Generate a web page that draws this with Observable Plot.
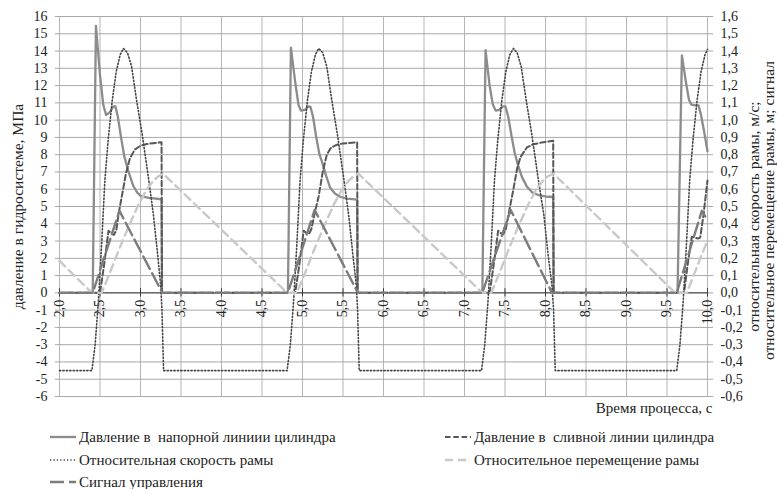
<!DOCTYPE html>
<html>
<head>
<meta charset="utf-8">
<script src="https://cdn.jsdelivr.net/npm/d3@7"></script>
<script src="https://cdn.jsdelivr.net/npm/@observablehq/plot@0.6"></script>
<style>
  html, body { margin: 0; background: #fff; overflow: hidden; font-family: "Liberation Serif", "Times New Roman", serif; color: #222; }
  #legend { position: relative; width: 777px; height: 65px; }
  .item { position: absolute; display: flex; align-items: center; height: 20px; font-size: 15px; white-space: pre; }
  .item svg { margin-right: 2px; }
</style>
</head>
<body>
<div id="chart"></div>
<div id="legend"></div>
<script>
// Time axis ticks, s
const timeTicks = [2.0, 2.5, 3.0, 3.5, 4.0, 4.5, 5.0, 5.5, 6.0, 6.5, 7.0, 7.5, 8.0, 8.5, 9.0, 9.5, 10.0];
// Left axis ticks, MPa (right axis shows the same grid divided by 10)
const pressureTicks = [-6, -5, -4, -3, -2, -1, 0, 1, 2, 3, 4, 5, 6, 7, 8, 9, 10, 11, 12, 13, 14, 15, 16];

// Pressure in the supply line of the cylinder, MPa: [time, value]
const supplyPressure = [
  [2.0, 0], [2.41, 0], [2.45, 15.45], [2.50, 12.6], [2.54, 10.9], [2.575, 10.3], [2.62, 10.45],
  [2.665, 10.8], [2.69, 10.8], [2.72, 10.2], [2.76, 9.0], [2.80, 7.9], [2.85, 7.05], [2.91, 6.2],
  [2.96, 5.8], [3.00, 5.62], [3.10, 5.5], [3.26, 5.42], [3.265, 0],
  [4.82, 0], [4.857, 14.2], [4.91, 12.2], [4.95, 10.9], [4.98, 10.55], [5.03, 10.6], [5.075, 10.8],
  [5.10, 10.75], [5.13, 10.2], [5.17, 9.0], [5.21, 8.0], [5.24, 7.6], [5.29, 6.8], [5.34, 6.1],
  [5.40, 5.75], [5.47, 5.55], [5.55, 5.45], [5.675, 5.4], [5.68, 0],
  [7.22, 0], [7.26, 14.05], [7.31, 12.0], [7.35, 10.9], [7.385, 10.55], [7.43, 10.6], [7.475, 10.8],
  [7.505, 10.8], [7.54, 10.2], [7.58, 9.1], [7.62, 8.1], [7.66, 7.4], [7.71, 6.7], [7.77, 6.15],
  [7.84, 5.8], [7.92, 5.65], [8.0, 5.58], [8.095, 5.55], [8.10, 0],
  [9.63, 0], [9.684, 13.75], [9.73, 12.3], [9.77, 11.2], [9.80, 10.9], [9.85, 10.85], [9.89, 10.85],
  [9.92, 10.3], [9.96, 9.3], [10.0, 8.2]
];

// Pressure in the drain line of the cylinder, MPa
const drainPressure = [
  [2.0, 0], [2.50, 0], [2.55, 1.6], [2.605, 3.6], [2.64, 3.45], [2.67, 3.35], [2.70, 3.6], [2.73, 4.6],
  [2.77, 5.6], [2.82, 6.9], [2.87, 7.8], [2.93, 8.3], [3.00, 8.52], [3.08, 8.62], [3.26, 8.72], [3.265, 0],
  [4.91, 0], [4.96, 1.6], [5.015, 3.6], [5.05, 3.45], [5.08, 3.4], [5.11, 3.7], [5.15, 4.6], [5.198, 5.55],
  [5.25, 7.0], [5.30, 8.0], [5.35, 8.4], [5.425, 8.58], [5.50, 8.65], [5.675, 8.72], [5.68, 0],
  [7.31, 0], [7.36, 1.6], [7.415, 3.6], [7.45, 3.45], [7.48, 3.4], [7.51, 3.7], [7.55, 4.7], [7.60, 5.9],
  [7.65, 7.2], [7.69, 7.85], [7.77, 8.42], [7.85, 8.6], [7.95, 8.7], [8.095, 8.8], [8.10, 0],
  [9.71, 0], [9.76, 1.8], [9.806, 3.25], [9.84, 3.2], [9.88, 3.15], [9.91, 3.2], [9.95, 4.5], [10.0, 6.5]
];

// Relative frame speed, m/s
const frameSpeed = [
  [2.0, -0.45], [2.40, -0.45], [2.44, -0.30], [2.48, -0.05], [2.52, 0.28], [2.56, 0.65], [2.60, 0.88],
  [2.65, 1.11], [2.70, 1.28], [2.75, 1.38], [2.79, 1.415], [2.84, 1.39], [2.89, 1.31], [2.95, 1.12],
  [3.02, 0.92], [3.10, 0.66], [3.16, 0.45], [3.21, 0.23], [3.25, 0.04], [3.265, -0.10], [3.285, -0.45],
  [4.81, -0.45], [4.85, -0.30], [4.89, -0.05], [4.93, 0.28], [4.97, 0.65], [5.01, 0.88], [5.06, 1.11],
  [5.11, 1.28], [5.16, 1.38], [5.20, 1.415], [5.25, 1.39], [5.30, 1.31], [5.36, 1.12], [5.43, 0.92],
  [5.51, 0.66], [5.57, 0.45], [5.62, 0.23], [5.665, 0.04], [5.68, -0.10], [5.70, -0.45],
  [7.21, -0.45], [7.25, -0.30], [7.29, -0.05], [7.33, 0.28], [7.37, 0.65], [7.41, 0.88], [7.46, 1.11],
  [7.51, 1.28], [7.56, 1.38], [7.605, 1.415], [7.65, 1.39], [7.70, 1.31], [7.76, 1.12], [7.83, 0.92],
  [7.91, 0.66], [7.98, 0.45], [8.03, 0.23], [8.08, 0.04], [8.10, -0.10], [8.12, -0.45],
  [9.62, -0.45], [9.66, -0.30], [9.70, -0.05], [9.74, 0.28], [9.78, 0.65], [9.82, 0.88], [9.87, 1.11],
  [9.92, 1.28], [9.97, 1.38], [10.0, 1.41]
];

// Relative frame displacement, m
const frameShift = [
  [2.0, 0.185], [2.40, 0], [2.52, 0], [2.60, 0.09], [2.73, 0.245], [2.85, 0.38], [2.98, 0.515],
  [3.08, 0.60], [3.16, 0.65], [3.22, 0.675], [3.28, 0.69],
  [4.81, 0], [4.93, 0], [5.01, 0.09], [5.14, 0.245], [5.26, 0.38], [5.39, 0.515], [5.49, 0.60],
  [5.57, 0.65], [5.63, 0.675], [5.69, 0.69],
  [7.22, 0], [7.33, 0], [7.41, 0.09], [7.54, 0.245], [7.66, 0.38], [7.79, 0.515], [7.89, 0.60],
  [7.97, 0.65], [8.03, 0.675], [8.10, 0.69],
  [9.60, 0], [9.745, 0], [9.82, 0.09], [9.94, 0.235], [10.0, 0.30]
];

// Control signal (right axis units)
const controlSignal = [
  [2.0, 0], [2.41, 0], [2.74, 0.475], [3.27, 0],
  [4.82, 0], [5.15, 0.48], [5.685, 0],
  [7.22, 0], [7.57, 0.48], [8.08, 0],
  [9.62, 0], [9.93, 0.475], [10.0, 0.42]
];

const series = [
  {name: "Давление в  напорной линиии цилиндра", data: supplyPressure, k: 1, stroke: "#8c8c8c", width: 2.3, dash: null},
  {name: "Давление в  сливной линии цилиндра", data: drainPressure, k: 1, stroke: "#575757", width: 2, dash: "5.5,2.8"},
  {name: "Относительная скорость рамы", data: frameSpeed, k: 10, stroke: "#454545", width: 1.6, dash: "1.3,2.1"},
  {name: "Относительное перемещение рамы", data: frameShift, k: 10, stroke: "#c9c9c9", width: 2.4, dash: "8,5"},
  {name: "Сигнал управления", data: controlSignal, k: 10, stroke: "#7c7c7c", width: 2.4, dash: "14,5"}
];

const comma = s => s.replace(".", ",");

const chart = Plot.plot({
  width: 777,
  height: 424,
  marginLeft: 59,
  marginRight: 70,
  marginTop: 16,
  marginBottom: 28,
  x: {domain: [2, 10], axis: null},
  y: {domain: [-6, 16], axis: null},
  style: {fontFamily: "Liberation Serif, Times New Roman, serif", fontSize: "14px", color: "#222", background: "#fff", overflow: "visible"},
  marks: [
    Plot.ruleX(timeTicks, {x: d => d, y1: -6, y2: 16, stroke: "#b5b5b5"}),
    Plot.ruleY(pressureTicks, {y: d => d, x1: 1.95, x2: 10.075, stroke: "#a8a8a8"}),
    Plot.axisY(pressureTicks, {anchor: "left", tickSize: 0, tickPadding: 12, tickFormat: d => String(d), label: null}),
    Plot.axisY(pressureTicks, {anchor: "right", tickSize: 0, tickPadding: 13, tickFormat: d => comma((d / 10).toFixed(1)), label: null}),
    Plot.ruleY([0], {x1: 2, x2: 10, stroke: "#3a3a3a"}),
    Plot.ruleX(timeTicks, {x: d => d, y1: -0.24, y2: 0.24, stroke: "#3a3a3a"}),
    Plot.text(timeTicks, {x: d => d, y: 0, text: d => comma(d.toFixed(1)), rotate: -90, textAnchor: "end", dy: 7}),
    ...series.map(s => Plot.line(s.data, {
      x: d => d[0], y: d => d[1] * s.k,
      stroke: s.stroke, strokeWidth: s.width, strokeDasharray: s.dash, strokeLinejoin: "round"
    })),
    Plot.text(["давление в гидросистеме, МПа"], {frameAnchor: "left", textAnchor: "middle", dx: -41, rotate: -90, fontSize: 15.5}),
    Plot.text(["относительная скорость рамы, м/с;"], {frameAnchor: "right", textAnchor: "middle", dx: 47, dy: 10, rotate: -90, fontSize: 15.5}),
    Plot.text(["относительное перемещение рамы, м; сигнал"], {frameAnchor: "right", textAnchor: "middle", dx: 62, dy: 4, rotate: -90, fontSize: 15.5}),
    Plot.text(["Время процесса, с"], {frameAnchor: "bottom-right", textAnchor: "end", dx: 5, dy: 16, fontSize: 15})
  ]
});
document.getElementById("chart").appendChild(chart);

// Legend below the chart
const legendPos = [[50, 13], [445, 13], [50, 36], [445, 36], [50, 58]];
const legend = document.getElementById("legend");
series.forEach((s, i) => {
  const [x, cy] = legendPos[i];
  const item = document.createElement("div");
  item.className = "item";
  item.style.left = x + "px";
  item.style.top = (cy - 10) + "px";
  const sample = d3.create("svg").attr("width", 27).attr("height", 8);
  sample.append("line").attr("x1", 0).attr("x2", 26).attr("y1", 4).attr("y2", 4)
    .attr("stroke", s.stroke).attr("stroke-width", s.width)
    .attr("stroke-dasharray", s.dash);
  item.appendChild(sample.node());
  const label = document.createElement("span");
  label.textContent = s.name;
  item.appendChild(label);
  legend.appendChild(item);
});
</script>
</body>
</html>
